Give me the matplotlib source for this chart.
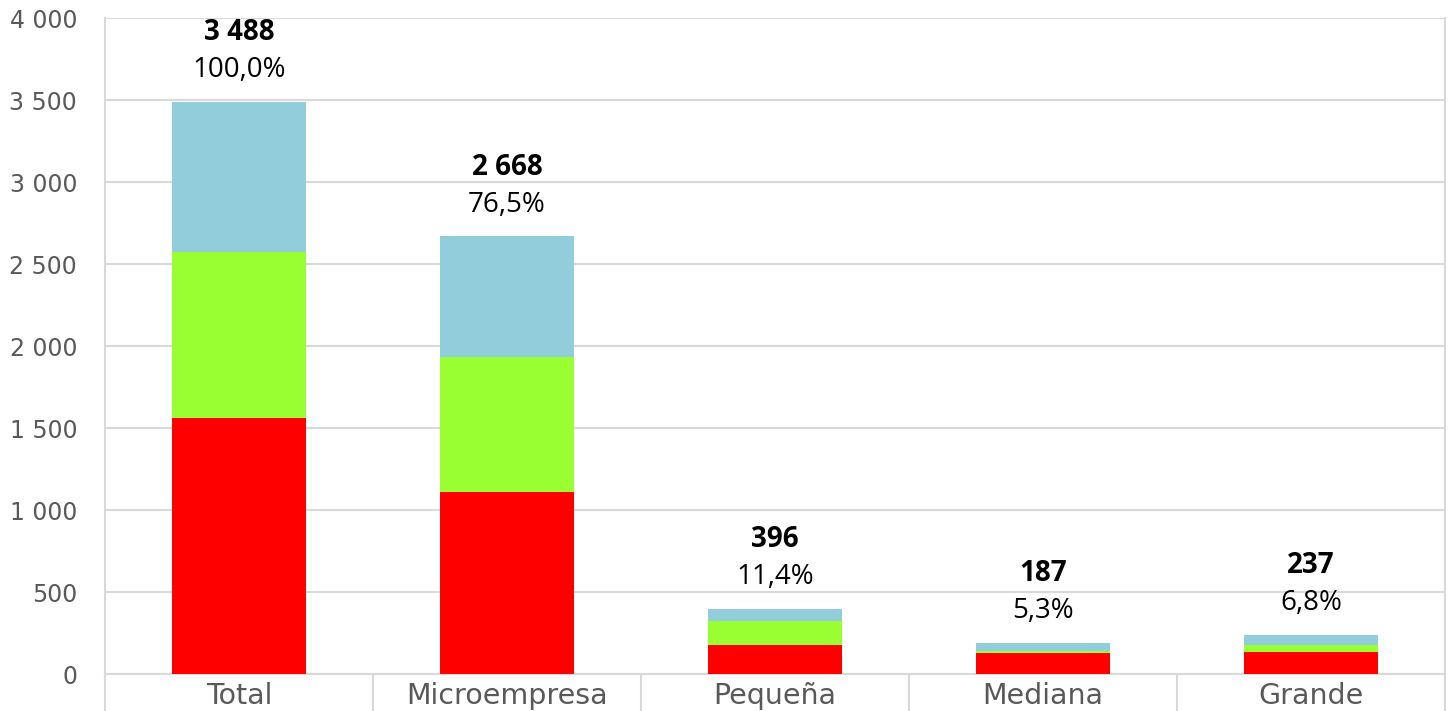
import matplotlib.pyplot as plt
import numpy as np

plt.rcParams['font.family'] = ['DejaVu Sans']

categories = ['Total', 'Microempresa', 'Pequeña', 'Mediana', 'Grande']
red_vals = [1561, 1110, 177, 130, 132]
green_vals = [1012, 823, 146, 12, 43]
totals = [3488, 2668, 396, 187, 237]
pct_labels = ['100,0%', '76,5%', '11,4%', '5,3%', '6,8%']
yticks = [0, 500, 1000, 1500, 2000, 2500, 3000, 3500, 4000]

red = np.array(red_vals)
green = np.array(green_vals)
blue = np.array(totals) - red - green

fig = plt.figure(figsize=(14.49, 7.11), dpi=100)
ax = fig.add_axes([105 / 1449, 37 / 711, 1340 / 1449, 656 / 711])

x = np.arange(len(categories))
w = 0.5
ax.bar(x, red, w, color='#ff0000', zorder=3)
ax.bar(x, green, w, bottom=red, color='#99ff33', zorder=3)
ax.bar(x, blue, w, bottom=red + green, color='#92cddc', zorder=3)

lbl_font = ['Open Sans', 'DejaVu Sans']
for i in range(len(categories)):
    ax.annotate(f"{totals[i]:,}".replace(',', ' '), (x[i], totals[i]),
                xytext=(0, 50), textcoords='offset points', ha='center', va='center',
                fontsize=20, fontweight='bold', color='black', family=lbl_font)
    ax.annotate(pct_labels[i], (x[i], totals[i]),
                xytext=(0, 23), textcoords='offset points', ha='center', va='center',
                fontsize=20, color='black', family=lbl_font)

ax.set_xlim(-0.5, len(categories) - 0.5)
ax.set_ylim(0, 4000)
ax.set_yticks(yticks)
ax.set_yticklabels([f"{v:,}".replace(',', ' ') for v in yticks])
ax.set_xticks(x)
ax.set_xticklabels(categories)
ax.set_xticks(np.arange(-0.5, len(categories)), minor=True)

ax.tick_params(axis='y', length=0, pad=20, labelsize=17, labelcolor='#595959')
ax.tick_params(axis='x', which='major', length=0, pad=6, labelsize=20.5, labelcolor='#595959')
ax.tick_params(axis='x', which='minor', length=30, width=1.5, color='#d9d9d9', direction='out')

ax.grid(axis='y', color='#d9d9d9', linewidth=1.5, zorder=0)
ax.spines['top'].set_visible(False)
for s in ['left', 'right', 'bottom']:
    ax.spines[s].set_color('#d9d9d9')
    ax.spines[s].set_linewidth(1.5)

plt.savefig('out.png', dpi=100)
